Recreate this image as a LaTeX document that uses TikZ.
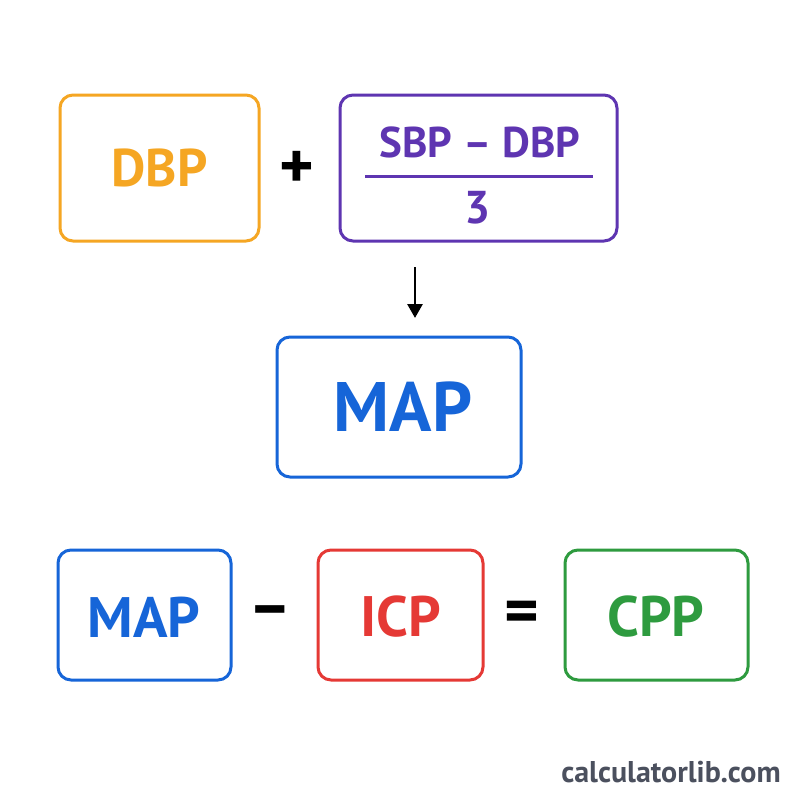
\documentclass[tikz,border=0pt]{standalone}
\usepackage{fontspec}
\setmainfont{PT Sans}
\usetikzlibrary{arrows.meta}
\definecolor{cOrange}{RGB}{245,166,35}
\definecolor{cPurple}{RGB}{94,53,177}
\definecolor{cBlue}{RGB}{22,101,216}
\definecolor{cRed}{RGB}{229,57,53}
\definecolor{cGreen}{RGB}{46,155,63}
\definecolor{cGray}{RGB}{75,80,94}
\tikzset{
  box/.style={draw=#1, line width=3pt, rounded corners=13pt, inner sep=0pt},
  lbl/.style={text=#1, font=\bfseries, inner sep=0pt},
  op/.style={font=\bfseries\fontsize{66}{66}\selectfont, inner sep=0pt},
}
\begin{document}
\begin{tikzpicture}[x=1pt,y=-1pt]
\useasboundingbox[fill=white] (0,0) rectangle (800,800);
% top row
\node[box=cOrange, minimum width=199pt, minimum height=146pt] (dbpbox) at (159.5,168) {};
\node[lbl=cOrange, font=\bfseries\fontsize{53}{53}\selectfont] (dbp) at (dbpbox.center) {DBP};
\node[op] (plus) at (297,170) {+};
\node[box=cPurple, minimum width=277pt, minimum height=146pt] (fracbox) at (478.5,168) {};
\node[lbl=cPurple, font=\bfseries\fontsize{43}{43}\selectfont] (num) at (480,142) {SBP – DBP};
\coordinate (fl) at (365,176);
\coordinate (fr) at (593,176);
\draw[cPurple, line width=3pt] (fl) -- (fr);
\node[lbl=cPurple, font=\bfseries\fontsize{46}{46}\selectfont] (den) at (478,208) {3};
% arrow
\coordinate (a1) at (415,267);
\coordinate (a2) at (415,318);
\draw[line width=2.8pt, -{Triangle[length=14pt,width=15pt]}] (a1) -- (a2);
% middle
\node[box=cBlue, minimum width=244pt, minimum height=140pt] (mapbox) at (399,407) {};
\node[lbl=cBlue, font=\bfseries\fontsize{70}{70}\selectfont] (map) at (403,407) {MAP};
% bottom row
\node[box=cBlue, minimum width=173pt, minimum height=130pt] (map2box) at (144.5,615) {};
\node[lbl=cBlue, font=\bfseries\fontsize{57}{57}\selectfont] (map2) at (144,617) {MAP};
\node[op] (minus) at (270,617) {–};
\node[box=cRed, minimum width=165pt, minimum height=130pt] (icpbox) at (400.5,615) {};
\node[lbl=cRed, font=\bfseries\fontsize{57}{57}\selectfont] (icp) at (401,617) {ICP};
\node[op] (eq) at (522,617) {=};
\node[box=cGreen, minimum width=183pt, minimum height=130pt] (cppbox) at (656.5,615) {};
\node[lbl=cGreen, font=\bfseries\fontsize{57}{57}\selectfont] (cpp) at (656,617) {CPP};
% footer
\node[lbl=cGray, font=\bfseries\fontsize{30}{30}\selectfont] (site) at (671,772) {calculatorlib.com};
\end{tikzpicture}
\end{document}
